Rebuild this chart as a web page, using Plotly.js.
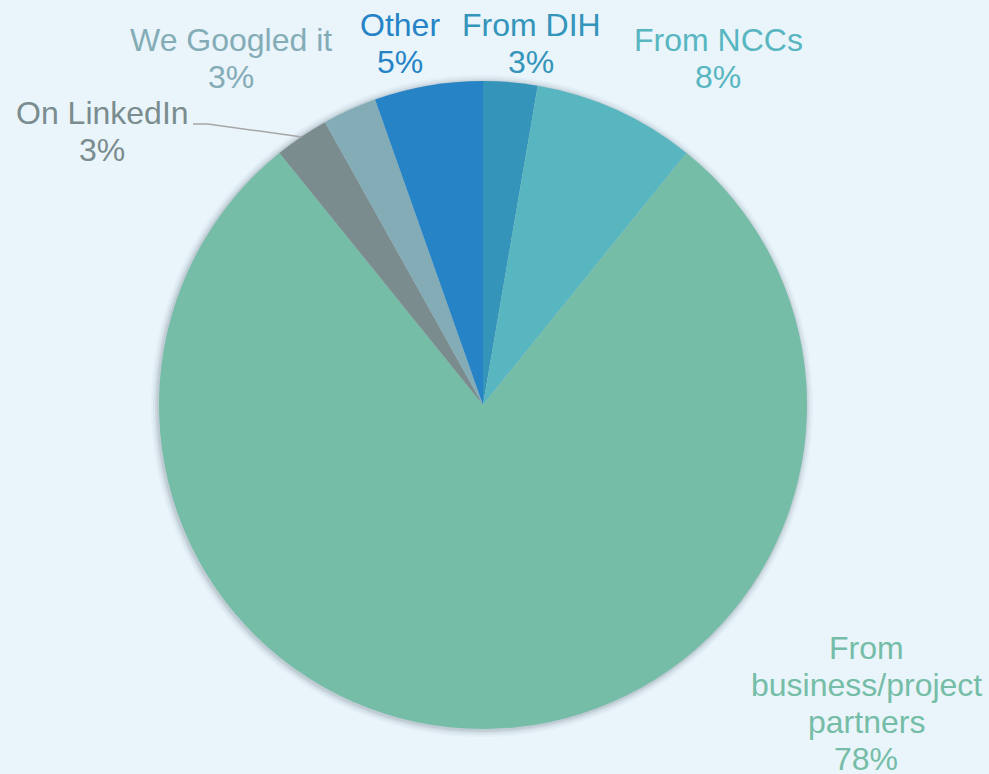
<!DOCTYPE html>
<html>
<head>
<meta charset="utf-8">
<script src="https://cdn.plot.ly/plotly-3.0.1.min.js"></script>
<style>html,body{margin:0;padding:0;background:#E9F5FB;}#chart{width:989px;height:774px;}</style>
</head>
<body>
<div id="chart"></div>
<script>
// Data (counts)
var categories = ["From DIH", "From NCCs", "From business/project partners", "On LinkedIn", "We Googled it", "Other"];
var values = [1, 3, 29, 1, 1, 2];
var labelLines = [["From DIH"], ["From NCCs"], ["From", "business/project", "partners"], ["On LinkedIn"], ["We Googled it"], ["Other"]];

var colors = ["#3494BA", "#58B6C0", "#75BDA7", "#7A8C8E", "#84ACB6", "#2683C6"];
var textColors = ["#3494BA", "#58B6C0", "#75BDA7", "#7A8C8E", "#84ACB6", "#2683C6"];

var W = 989, H = 774;
var cx = 483, cy = 405, R = 324;
function px(x) { return x / W; }
function py(y) { return 1 - y / H; }

// label positions (pixel): center x, first-line center y
var labelPos = [[531, 25], [718, 40], [866, 648], [102, 113], [231, 40], [400, 25]];
var lineGap = 37;

var total = values.reduce(function (a, b) { return a + b; }, 0);
var annotations = [];
for (var i = 0; i < categories.length; i++) {
  var lines = labelLines[i].slice();
  lines.push(Math.round(values[i] / total * 100) + "%");
  for (var j = 0; j < lines.length; j++) {
    annotations.push({
      xref: "paper", yref: "paper",
      x: px(labelPos[i][0]), y: py(labelPos[i][1] + j * lineGap),
      xanchor: "center", yanchor: "middle",
      text: lines[j], showarrow: false,
      font: {family: "Liberation Sans", size: 32, color: textColors[i]}
    });
  }
}

var shapes = [];
// soft shadow approximation
var shadowSteps = [[7, 0.03], [5, 0.05], [3, 0.07], [1.5, 0.09]];
shadowSteps.forEach(function (s) {
  var r = R + s[0];
  shapes.push({
    type: "circle", xref: "paper", yref: "paper", layer: "below",
    x0: px(cx - r - 1), x1: px(cx + r - 1), y0: py(cy + r + 1), y1: py(cy - r + 1),
    fillcolor: "rgba(60,70,80," + s[1] + ")", line: {width: 0}
  });
});
// leader line for On LinkedIn
shapes.push({
  type: "path", xref: "paper", yref: "paper",
  path: "M " + px(193) + "," + py(124) + " L " + px(208) + "," + py(124) + " L " + px(302) + "," + py(137),
  line: {color: "#A6A6A6", width: 1.5}
});

var trace = {
  type: "pie",
  labels: categories,
  values: values,
  sort: false,
  direction: "clockwise",
  rotation: 0,
  textinfo: "none",
  hoverinfo: "label+percent",
  marker: {colors: colors, line: {width: 0}},
  domain: {x: [px(cx - R), px(cx + R)], y: [py(cy + R), py(cy - R)]},
  showlegend: false
};

var layout = {
  width: W, height: H,
  margin: {l: 0, r: 0, t: 0, b: 0},
  paper_bgcolor: "#E9F5FB",
  plot_bgcolor: "#E9F5FB",
  showlegend: false,
  annotations: annotations,
  shapes: shapes
};

Plotly.newPlot("chart", [trace], layout, {displayModeBar: false});
</script>
</body>
</html>
